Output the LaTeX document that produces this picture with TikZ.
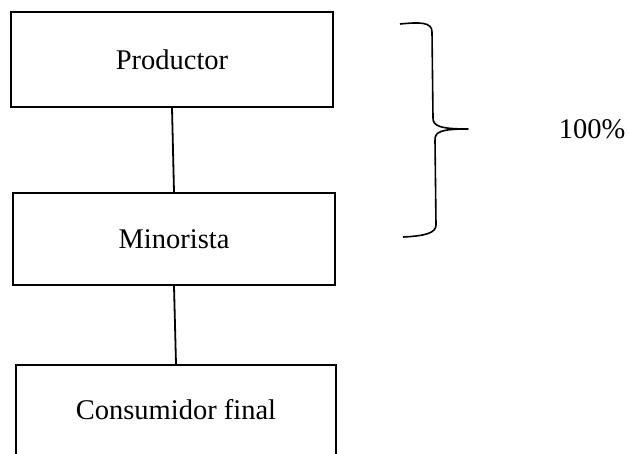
\documentclass[tikz,border=0pt]{standalone}
\usepackage{fontspec}
\setmainfont{Liberation Serif}
\begin{document}
\begin{tikzpicture}[x=1pt,y=-1pt,
  chanbox/.style={draw, line width=1.8pt, rectangle, inner sep=0pt, font=\fontsize{28.5}{30}\selectfont},
  conn/.style={line width=1.8pt},
  lbl/.style={font=\fontsize{28.5}{30}\selectfont, inner sep=0pt}]
\useasboundingbox (0,0) rectangle (629,453);
\clip (0,0) rectangle (629,453);
\fill[white] (0,0) rectangle (629,453);
\node[chanbox, minimum width=322pt, minimum height=95pt] (prod) at (172,59.5) {Productor};
\node[chanbox, minimum width=322pt, minimum height=92pt] (mino) at (174,239) {Minorista};
\node[chanbox, minimum width=320pt, minimum height=90pt] (cons) at (176,410) {Consumidor final};
\draw[conn] (prod.south) -- (mino.north);
\draw[conn] (mino.south) -- (cons.north);
\coordinate (btop) at (400,24);
\coordinate (btip) at (468,129);
\coordinate (bbot) at (403,237);
\draw[line width=1.6pt, line join=round]
  (btop) .. controls (420,22) and (432,22) .. (432,32)
  -- (433,118) .. controls (433,126) and (440,129) .. (btip)
  .. controls (440,129) and (435,132) .. (435,140)
  -- (436,225) .. controls (436,233) and (425,236) .. (bbot);
\node[lbl] (pct) at (592,129) {100\%};
\end{tikzpicture}
\end{document}
